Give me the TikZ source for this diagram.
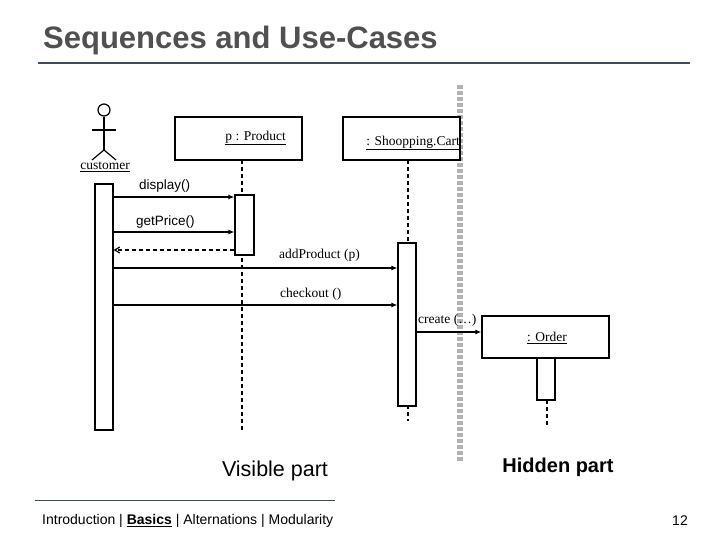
\documentclass[tikz,border=0pt]{standalone}
\usepackage{fontspec}
\setmainfont{Liberation Serif}
\newfontfamily\arial{Liberation Sans}
\usetikzlibrary{arrows.meta}
\definecolor{titlegray}{RGB}{80,80,80}
\definecolor{rulecol}{RGB}{60,75,95}
\newcommand\myul[1]{\underline{#1}}
\begin{document}
\begin{tikzpicture}[x=1pt,y=-1pt,
  box/.style={draw,line width=1.2pt,fill=white},
  act/.style={draw,line width=1.2pt,fill=white},
  life/.style={line width=1.2pt,dash pattern=on 4pt off 3pt},
  msg/.style={line width=1.2pt,-{Latex[length=6pt,width=5pt]}},
  ret/.style={line width=1.2pt,dash pattern=on 4pt off 3pt,-{Straight Barb[length=5pt,width=6pt]}},
  lab/.style={font=\arial\fontsize{13.5}{15}\selectfont,inner sep=0pt,anchor=west},
  slab/.style={font=\fontsize{13.5}{15}\selectfont,inner sep=0pt}]
\useasboundingbox (0,0) rectangle (720,540);
\node[anchor=west,font=\arial\bfseries\fontsize{31}{34}\selectfont,text=titlegray,inner sep=0pt] (title) at (43,40) {Sequences and Use-Cases};
\draw[rulecol,line width=1.5pt] (38,63) -- (690,63);
% separator
\draw[gray!60,line width=6pt,dash pattern=on 4pt off 2pt] (460,85) -- (460,463);
% actor
\node[circle,draw,line width=1.2pt,minimum size=12pt,inner sep=0pt] (head) at (104,110) {};
\coordinate (hip) at (104,150);
\draw[line width=1.2pt] (head.south) -- (hip);
\draw[line width=1.2pt] (92,130) -- (116,130);
\draw[line width=1.2pt] (92,160) -- (hip) -- (116,160);
\node[slab] (cust) at (105,167) {\myul{customer}};
% objects
\node[box,minimum width=127pt,minimum height=43pt] (prod) at (238.5,138.5) {};
\node[slab,anchor=east] (prodt) at (286,138) {\myul{p : Product}};
\node[box,minimum width=117pt,minimum height=43pt] (cart) at (401.5,138.5) {};
\node[slab,anchor=east] (cartt) at (460,143) {\myul{: Shoopping.Cart}};
% lifelines
\coordinate (pb) at (242,430);
\coordinate (cb) at (408,421);
\coordinate (ob) at (547,426);
\draw[life] (242,160) -- (pb);
\draw[life] (408,160) -- (cb);
% activations
\node[act,minimum width=18pt,minimum height=246pt,inner sep=0pt] (aa) at (104,307) {};
\node[act,minimum width=19pt,minimum height=60pt,inner sep=0pt] (pa) at (244.5,225) {};
\node[act,minimum width=18pt,minimum height=163pt,inner sep=0pt] (ca) at (407,324.5) {};
% order
\node[box,minimum width=127pt,minimum height=42pt] (ord) at (545.5,337) {};
\node[slab] (ordt) at (547,338) {\myul{: Order}};
\draw[life] (547,400) -- (ob);
\node[act,minimum width=18pt,minimum height=42pt,inner sep=0pt] (oa) at (546,379) {};
% messages
\draw[msg] (aa.east |- 0,197) -- (pa.west |- 0,197);
\node[lab] (m1) at (139,186) {display()};
\draw[msg] (aa.east |- 0,232) -- (pa.west |- 0,232);
\node[lab] (m2) at (136,222) {getPrice()};
\draw[ret] (pa.west |- 0,250) -- (aa.east |- 0,250);
\draw[msg] (aa.east |- 0,268) -- (ca.west |- 0,268);
\node[slab,anchor=west] (m3) at (279,255) {addProduct (p)};
\draw[msg] (aa.east |- 0,305) -- (ca.west |- 0,305);
\node[slab,anchor=west] (m4) at (280,294) {checkout ()};
\draw[msg] (ca.east |- 0,332) -- (ord.west |- 0,332);
\node[slab,anchor=west] (m5) at (418,320) {create (\dots)};
% parts
\node[font=\arial\fontsize{21.5}{24}\selectfont,inner sep=0pt] (vis) at (275,471) {Visible part};
\node[font=\arial\bfseries\fontsize{20}{24}\selectfont,inner sep=0pt] (hid) at (558,467) {Hidden part};
% footer
\draw[rulecol,line width=1pt] (35,500) -- (335,500);
\node[anchor=west,font=\arial\fontsize{14}{16}\selectfont,inner sep=0pt] (foot) at (42,521) {Introduction | \textbf{\underline{Basics}} | Alternations | Modularity};
\node[font=\arial\fontsize{14}{16}\selectfont,inner sep=0pt] (pg) at (680,521) {12};
\end{tikzpicture}
\end{document}
